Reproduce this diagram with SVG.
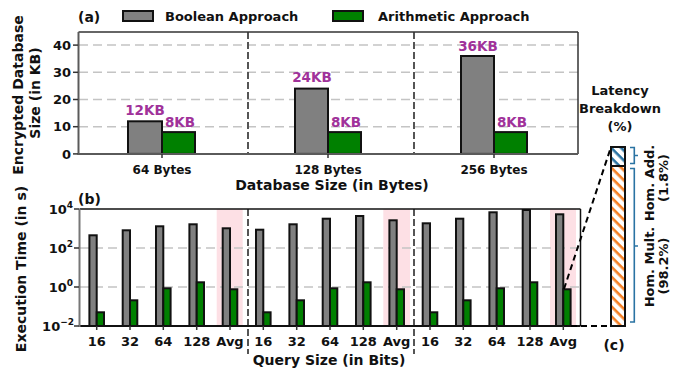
<svg xmlns="http://www.w3.org/2000/svg" width="693" height="374" viewBox="0 0 693 374">
<style>
text{font-family:"DejaVu Sans","Liberation Sans",sans-serif;font-weight:bold;fill:#111}
.t14{font-size:14px}
.t13{font-size:13px}
.t12{font-size:12px}
.mid{text-anchor:middle}
.end{text-anchor:end}
.val{font-size:13.5px;fill:#a0329a;text-anchor:middle}
.grid{stroke:#c4c4c4;stroke-width:1.5;stroke-dasharray:9 5;fill:none}
.sep{stroke:#555;stroke-width:2;stroke-dasharray:7 3;fill:none}
.gray{fill:#808080;stroke:#111;stroke-width:2}
.green{fill:#008000;stroke:#111;stroke-width:2}
.tick{stroke:#333;stroke-width:1.5}
.pink{fill:#fde0e5}
.brace{fill:none;stroke:#2a73a3;stroke-width:1.6}
.conn{fill:none;stroke:#000;stroke-width:2;stroke-dasharray:6 4}
</style>
<defs>
<pattern id="hatchBlue" patternUnits="userSpaceOnUse" width="7" height="7" patternTransform="rotate(45)">
<rect width="7" height="7" fill="#fff"/>
<rect width="7" height="2.6" fill="#2a73a3"/>
</pattern>
<pattern id="hatchOrange" patternUnits="userSpaceOnUse" width="7" height="7" patternTransform="rotate(45)">
<rect width="7" height="7" fill="#fff"/>
<rect width="7" height="2.6" fill="#f58025"/>
</pattern>
</defs>

<g id="legend">
<text class="t14" x="78" y="22">(a)</text>
<rect x="123" y="11" width="30" height="10" class="gray" stroke-width="1.5"/>
<text class="t13" x="165" y="21" font-size="13.4">Boolean Approach</text>
<rect x="333" y="11" width="30" height="10" class="green" stroke-width="1.5"/>
<text class="t13" x="378" y="21" font-size="13.4">Arithmetic Approach</text>
</g>

<g id="chart-a">
<line class="grid" x1="79" y1="126.7" x2="578" y2="126.7"/>
<line class="grid" x1="79" y1="99.5" x2="578" y2="99.5"/>
<line class="grid" x1="79" y1="72.3" x2="578" y2="72.3"/>
<line class="grid" x1="79" y1="45.1" x2="578" y2="45.1"/>
<line class="sep" x1="248" y1="32" x2="248" y2="154"/>
<line class="sep" x1="414" y1="32" x2="414" y2="154"/>
<rect class="gray" x="128" y="121.3" width="34" height="32.6"/>
<rect class="green" x="162" y="132.1" width="33" height="21.8"/>
<rect class="gray" x="295" y="88.6" width="33" height="65.3"/>
<rect class="green" x="328" y="132.1" width="33" height="21.8"/>
<rect class="gray" x="461" y="56" width="33" height="97.9"/>
<rect class="green" x="494" y="132.1" width="33" height="21.8"/>
<text class="val" x="145" y="115">12KB</text>
<text class="val" x="180" y="127">8KB</text>
<text class="val" x="312" y="82">24KB</text>
<text class="val" x="346" y="127">8KB</text>
<text class="val" x="478" y="50.5">36KB</text>
<text class="val" x="512" y="127">8KB</text>
<line x1="78.5" y1="32" x2="578" y2="32" stroke="#333" stroke-width="1.5"/>
<line x1="578" y1="32" x2="578" y2="154" stroke="#333" stroke-width="1.5"/>
<line x1="78.5" y1="32" x2="78.5" y2="155" stroke="#5a5a5a" stroke-width="2"/>
<line x1="78" y1="154" x2="578" y2="154" stroke="#5a5a5a" stroke-width="2"/>
<line class="tick" x1="73" y1="153.9" x2="78" y2="153.9"/>
<line class="tick" x1="73" y1="126.7" x2="78" y2="126.7"/>
<line class="tick" x1="73" y1="99.5" x2="78" y2="99.5"/>
<line class="tick" x1="73" y1="72.3" x2="78" y2="72.3"/>
<line class="tick" x1="73" y1="45.1" x2="78" y2="45.1"/>
<line class="tick" x1="162" y1="154" x2="162" y2="158"/>
<line class="tick" x1="328" y1="154" x2="328" y2="158"/>
<line class="tick" x1="494" y1="154" x2="494" y2="158"/>
<text class="t13 end" x="71" y="158.5">0</text>
<text class="t13 end" x="71" y="131.2">10</text>
<text class="t13 end" x="71" y="104">20</text>
<text class="t13 end" x="71" y="76.8">30</text>
<text class="t13 end" x="71" y="49.6">40</text>
<text class="t12 mid" x="162" y="174">64 Bytes</text>
<text class="t12 mid" x="328" y="174">128 Bytes</text>
<text class="t12 mid" x="494" y="174">256 Bytes</text>
<text class="t14 mid" x="332" y="190">Database Size (in Bytes)</text>
<text class="t14 mid" transform="translate(23,95) rotate(-90)">Encrypted Database</text>
<text class="t14 mid" transform="translate(40,93) rotate(-90)">Size (in KB)</text>
</g>

<g id="chart-b">
<text class="t14" x="78" y="204">(b)</text>
<rect class="pink" x="216.7" y="209" width="26" height="117"/>
<rect class="pink" x="383.3" y="209" width="26.7" height="117"/>
<rect class="pink" x="550" y="209" width="26" height="117"/>
<line class="grid" x1="80" y1="248" x2="580" y2="248"/>
<line class="grid" x1="80" y1="287" x2="580" y2="287"/>
<line class="sep" x1="248" y1="209" x2="248" y2="354"/>
<line class="sep" x1="414" y1="209" x2="414" y2="354"/>
<rect class="gray" x="89.4" y="235.3" width="7.3" height="90.7"/>
<rect class="gray" x="122.7" y="230.3" width="7.3" height="95.7"/>
<rect class="gray" x="156" y="226.3" width="7.3" height="99.7"/>
<rect class="gray" x="189.4" y="224.3" width="7.3" height="101.7"/>
<rect class="gray" x="222.7" y="228.3" width="7.3" height="97.7"/>
<rect class="gray" x="256" y="229.7" width="7.3" height="96.3"/>
<rect class="gray" x="289.4" y="224.3" width="7.3" height="101.7"/>
<rect class="gray" x="322.7" y="218.7" width="7.3" height="107.3"/>
<rect class="gray" x="356" y="216" width="7.3" height="110"/>
<rect class="gray" x="389.4" y="220.3" width="7.3" height="105.7"/>
<rect class="gray" x="422.7" y="223.3" width="7.3" height="102.7"/>
<rect class="gray" x="456" y="218.7" width="7.3" height="107.3"/>
<rect class="gray" x="489.4" y="212.3" width="7.3" height="113.7"/>
<rect class="gray" x="522.7" y="210" width="7.3" height="116"/>
<rect class="gray" x="556" y="214.3" width="7.3" height="111.7"/>
<rect class="green" x="96.7" y="312.3" width="7.3" height="13.7"/>
<rect class="green" x="130" y="300.3" width="7.3" height="25.7"/>
<rect class="green" x="163.3" y="288.3" width="7.3" height="37.7"/>
<rect class="green" x="196.7" y="282.3" width="7.3" height="43.7"/>
<rect class="green" x="230" y="289.3" width="7.3" height="36.7"/>
<rect class="green" x="263.3" y="312.3" width="7.3" height="13.7"/>
<rect class="green" x="296.7" y="300.3" width="7.3" height="25.7"/>
<rect class="green" x="330" y="288.3" width="7.3" height="37.7"/>
<rect class="green" x="363.3" y="282.3" width="7.3" height="43.7"/>
<rect class="green" x="396.7" y="289.3" width="7.3" height="36.7"/>
<rect class="green" x="430" y="312.3" width="7.3" height="13.7"/>
<rect class="green" x="463.3" y="300.3" width="7.3" height="25.7"/>
<rect class="green" x="496.7" y="288.3" width="7.3" height="37.7"/>
<rect class="green" x="530" y="282.3" width="7.3" height="43.7"/>
<rect class="green" x="563.3" y="289.3" width="7.3" height="36.7"/>
<line x1="79.5" y1="209" x2="580.5" y2="209" stroke="#111" stroke-width="1.5"/>
<line x1="580.5" y1="209" x2="580.5" y2="326" stroke="#111" stroke-width="1.5"/>
<line x1="79.5" y1="326" x2="580.5" y2="326" stroke="#111" stroke-width="2"/>
<line x1="79.5" y1="209" x2="79.5" y2="327" stroke="#777" stroke-width="2"/>
<line class="tick" x1="74" y1="209" x2="79" y2="209"/>
<line class="tick" x1="74" y1="248" x2="79" y2="248"/>
<line class="tick" x1="74" y1="287" x2="79" y2="287"/>
<line class="tick" x1="74" y1="326" x2="79" y2="326"/>
<text class="t13 end" x="73" y="213.5">10<tspan font-size="9" dy="-6">4</tspan></text>
<text class="t13 end" x="73" y="252.5">10<tspan font-size="9" dy="-6">2</tspan></text>
<text class="t13 end" x="73" y="291.5">10<tspan font-size="9" dy="-6">0</tspan></text>
<text class="t13 end" x="74" y="330.5">10<tspan font-size="9" dy="-6">−2</tspan></text>
<g class="tick">
<line x1="96.7" y1="326" x2="96.7" y2="330"/><line x1="130" y1="326" x2="130" y2="330"/>
<line x1="163.3" y1="326" x2="163.3" y2="330"/><line x1="196.7" y1="326" x2="196.7" y2="330"/>
<line x1="230" y1="326" x2="230" y2="330"/><line x1="263.3" y1="326" x2="263.3" y2="330"/>
<line x1="296.7" y1="326" x2="296.7" y2="330"/><line x1="330" y1="326" x2="330" y2="330"/>
<line x1="363.3" y1="326" x2="363.3" y2="330"/><line x1="396.7" y1="326" x2="396.7" y2="330"/>
<line x1="430" y1="326" x2="430" y2="330"/><line x1="463.3" y1="326" x2="463.3" y2="330"/>
<line x1="496.7" y1="326" x2="496.7" y2="330"/><line x1="530" y1="326" x2="530" y2="330"/>
<line x1="563.3" y1="326" x2="563.3" y2="330"/>
</g>
<text class="t13 mid" x="96.7" y="346">16</text>
<text class="t13 mid" x="130" y="346">32</text>
<text class="t13 mid" x="163.3" y="346">64</text>
<text class="t13 mid" x="196.7" y="346">128</text>
<text class="t13 mid" x="230" y="346">Avg</text>
<text class="t13 mid" x="263.3" y="346">16</text>
<text class="t13 mid" x="296.7" y="346">32</text>
<text class="t13 mid" x="330" y="346">64</text>
<text class="t13 mid" x="363.3" y="346">128</text>
<text class="t13 mid" x="396.7" y="346">Avg</text>
<text class="t13 mid" x="430" y="346">16</text>
<text class="t13 mid" x="463.3" y="346">32</text>
<text class="t13 mid" x="496.7" y="346">64</text>
<text class="t13 mid" x="530" y="346">128</text>
<text class="t13 mid" x="563.3" y="346">Avg</text>
<text class="t14 mid" x="329" y="365">Query Size (in Bits)</text>
<text class="t14 mid" transform="translate(26,269) rotate(-90)">Execution Time (in s)</text>
</g>

<g id="connectors">
<line class="conn" x1="564" y1="289" x2="611" y2="147"/>
<line class="conn" x1="571" y1="326" x2="611" y2="326"/>
</g>

<g id="breakdown-c">
<text class="t13 mid" x="620" y="95" font-size="13.5">Latency</text>
<text class="t13 mid" x="620" y="113" font-size="13.5">Breakdown</text>
<text class="t13 mid" x="620" y="131" font-size="13.5">(%)</text>
<rect x="611" y="166" width="14" height="160" fill="url(#hatchOrange)" stroke="#111" stroke-width="2"/>
<rect x="611" y="147" width="14" height="19" fill="url(#hatchBlue)" stroke="#111" stroke-width="2"/>
<path class="brace" d="M630 147.5 H634.3 V163.5 H630 M634.3 155.5 H638"/>
<path class="brace" d="M630 168.5 H634.3 V322 H630 M634.3 246 H638"/>
<text class="t13 mid" transform="translate(654,267) rotate(-90)">Hom. Mult.</text>
<text class="t13 mid" transform="translate(668,266) rotate(-90)">(98.2%)</text>
<text class="t13 mid" transform="translate(654,183) rotate(-90)">Hom. Add.</text>
<text class="t13 mid" transform="translate(668,178) rotate(-90)">(1.8%)</text>
<text class="t14 mid" x="614" y="350">(c)</text>
</g>
</svg>
